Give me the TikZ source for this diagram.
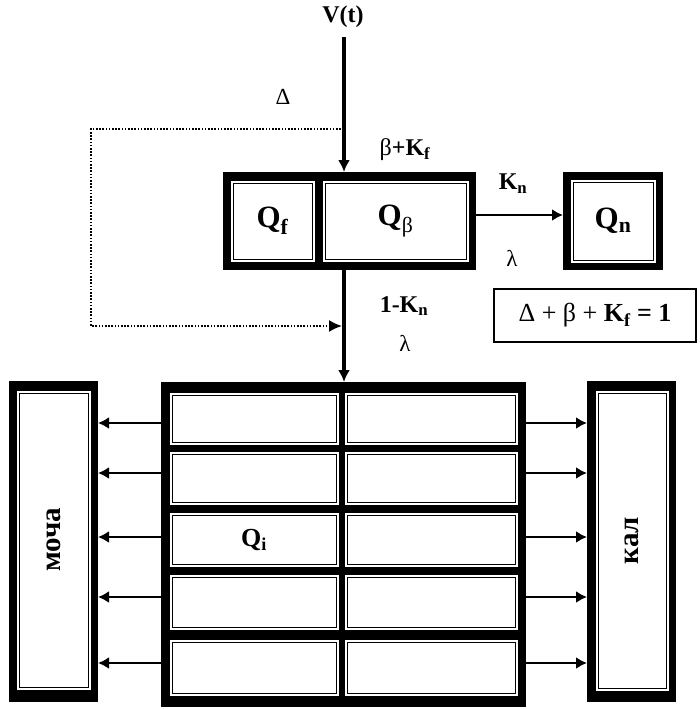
\documentclass[tikz,border=0pt]{standalone}
\usepackage{fontspec}
\setmainfont{Liberation Serif}
\usetikzlibrary{arrows.meta}
\newcommand\sbs[1]{\textsubscript{#1}}
\begin{document}
\begin{tikzpicture}[x=1pt,y=-1pt,
  blackframe/.style={fill=black, inner sep=0pt, outer sep=0pt},
  cellbox/.style={draw=black, line width=1pt, fill=white, inner sep=0pt, outer sep=0pt,
    preaction={draw=white, line width=5pt}},
  arr/.style={line width=2.6pt, -{Latex[length=11pt,width=12pt]}},
  varr/.style={line width=3.2pt, -{Latex[length=12pt,width=12pt]}},
  dotline/.style={line width=1.8pt, dash pattern=on 1.6pt off 1.6pt, -{Latex[length=13pt,width=12pt]}},
  bigq/.style={font=\bfseries\fontsize{31}{33}\selectfont},
  lbl/.style={font=\bfseries\fontsize{24}{26}\selectfont, inner sep=0pt},
  greek/.style={font=\fontsize{23}{25}\selectfont, inner sep=0pt},
  side/.style={font=\bfseries\fontsize{29}{31}\selectfont, rotate=90}
]
\useasboundingbox (0,0) rectangle (699,709);

% frames
\node[blackframe, minimum width=253pt, minimum height=98pt] (upper) at (349.5,221) {};
\node[blackframe, minimum width=100pt, minimum height=98pt] (qnframe) at (613,221) {};
\node[blackframe, minimum width=89pt, minimum height=321pt] (urineframe) at (53.5,541.5) {};
\node[blackframe, minimum width=89pt, minimum height=321pt] (fecesframe) at (631.5,541.5) {};
\node[blackframe, minimum width=365pt, minimum height=325pt] (grid) at (343.5,544.5) {};

% cells
\node[cellbox, minimum width=79pt, minimum height=76pt, bigq] (qf) at (272.5,221) {Q\sbs{f}};
\node[cellbox, minimum width=141pt, minimum height=76pt, bigq] (qb) at (395.5,221) {Q\sbs{\normalfont β}};
\node[cellbox, minimum width=80pt, minimum height=78pt, bigq] (qn) at (613,221) {Q\sbs{n}};
\node[cellbox, minimum width=69pt, minimum height=294pt] (urine) at (53.5,540) {};
\node[side] at (urine.center) {моча};
\node[cellbox, minimum width=68pt, minimum height=295pt] (feces) at (632,540.5) {};
\node[side] at (feces.center) {кал};

\foreach \r/\y/\h in {1/418.5/47, 2/478/48, 3/539.5/49, 4/602/50, 5/667.5/51} {
  \node[cellbox, minimum width=164pt, minimum height=\h pt] (cl\r) at (254,\y) {};
  \node[cellbox, minimum width=168pt, minimum height=\h pt] (cr\r) at (431,\y) {};
}
\node[font=\bfseries\fontsize{26}{28}\selectfont] (qi) at (cl3.center) {Q\sbs{i}};

% labels
\node[lbl] (vt) at (343,17) {V(t)};
\node[greek] (delta) at (283,97) {Δ};
\node[lbl] (bk) at (405,150) {{\normalfont β}+K\sbs{f}};
\node[lbl] (kn) at (513,184) {K\sbs{n}};
\node[greek] (lam1) at (512,258) {λ};
\node[lbl] (onekn) at (404,306) {1-K\sbs{n}};
\node[greek] (lam2) at (405,343) {λ};

\node[draw, line width=2pt, minimum width=202pt, minimum height=53pt, inner sep=0pt,
  font=\fontsize{26}{28}\selectfont] (eq) at (595,315.5) {Δ + β + \textbf{K\sbs{f} = 1}};

% connectors
\coordinate (vtop) at (344,37);
\draw[varr] (vtop) -- (vtop |- upper.north);
\draw[varr] (vtop |- upper.south) -- (vtop |- grid.north);
\coordinate (kny) at (0,215);
\draw[arr] (upper.east |- kny) -- (qnframe.west |- kny);

\coordinate (dstart) at (344,129);
\coordinate (dc1) at (91,129);
\coordinate (dc2) at (91,326);
\coordinate (dend) at (342,326);
\draw[dotline] (dstart) -- (dc1) -- (dc2) -- (dend);

\foreach \y in {423,473,537,597,663} {
  \coordinate (ay) at (0,\y);
  \draw[arr] (grid.west |- ay) -- (urineframe.east |- ay);
  \draw[arr] (grid.east |- ay) -- (fecesframe.west |- ay);
}
\end{tikzpicture}
\end{document}
